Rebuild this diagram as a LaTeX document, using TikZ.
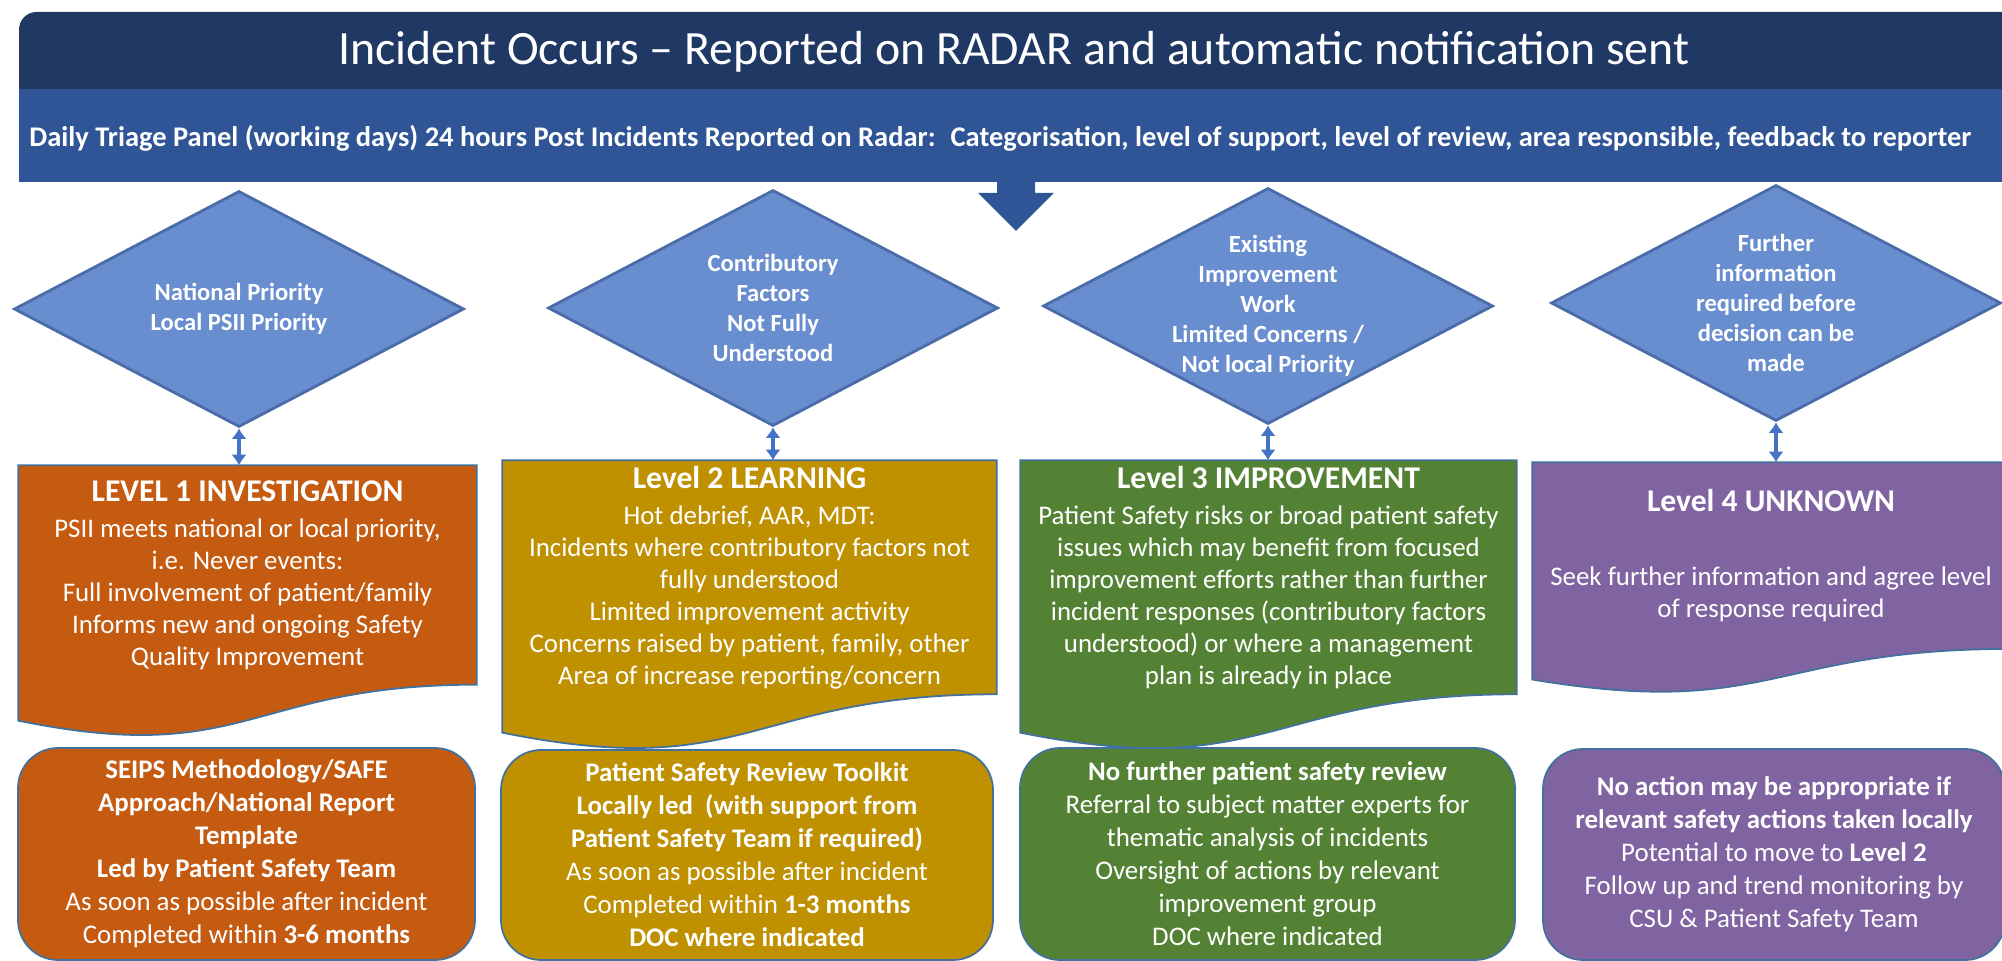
\documentclass[tikz,border=0pt]{standalone}
\usepackage{fontspec}
\setmainfont{Carlito}
\usetikzlibrary{calc, positioning, shapes.geometric, arrows.meta, backgrounds}

\definecolor{navy}{HTML}{203864}
\definecolor{bandblue}{HTML}{2F5597}
\definecolor{diafill}{HTML}{698ED0}
\definecolor{diaedge}{HTML}{4A6CA8}
\definecolor{arrowblue}{HTML}{4472C4}
\definecolor{edgeblue}{HTML}{41719C}
\definecolor{lvlorange}{HTML}{C55A11}
\definecolor{lvlgold}{HTML}{BF9000}
\definecolor{lvlgreen}{HTML}{548235}
\definecolor{lvlpurple}{HTML}{8064A2}

% document shape with wavy bottom, under the text node #1
\newcommand\docwave[3]{%
  \filldraw[fill=#2, draw=edgeblue, line width=0.5pt]
    (#1.north west) -- (#1.north east) -- (#1.south east)
    .. controls (#1.south) and ([yshift=-#3*0.38cm]#1.south) ..
    ([yshift=-#3*0.165cm]#1.south west) -- cycle;}

\begin{document}
\begin{tikzpicture}[>={Latex[length=3pt,width=4.4pt]},
  dia/.style={diamond, aspect=1.9, fill=diafill, draw=diaedge, line width=0.8pt,
    minimum width=4.5cm, minimum height=2.36cm, inner sep=0pt},
  dtext/.style={text=white, align=center, font=\fontsize{7}{8.5}\selectfont\bfseries},
  docbox/.style={text=white, align=center, inner sep=0pt, font=\fontsize{7.65}{9.1}\selectfont},
  rbox/.style={rounded corners=0.4cm, draw=edgeblue, line width=0.5pt, text=white,
    align=center, inner sep=0pt, font=\fontsize{7.65}{9.4}\selectfont},
  updown/.style={<->, draw=arrowblue, line width=1.3pt}]
  \useasboundingbox (0,0) rectangle (20.02,9.61);
  \clip (0,0) rectangle (20.02,9.61);

  % header bars
  \fill[navy] (0.19,8.72) [rounded corners=5pt] -- (0.19,9.49) [sharp corners] -- (20.3,9.49) -- (20.3,8.72) -- cycle;
  \node[text=white, font=\fontsize{13.6}{16}\selectfont] (title) at (10.14,9.095)
    {Incident Occurs -- Reported on RADAR and automatic notification sent};
  \fill[bandblue] (0.19,8.72) rectangle (20.3,7.79);
  \node[text=white, anchor=west, font=\fontsize{8.1}{9}\selectfont\bfseries] (band) at (0.17,8.23)
    {Daily Triage Panel (working days) 24 hours Post Incidents Reported on Radar: \ Categorisation, level of support, level of review, area responsible, feedback to reporter};
  \fill[bandblue] (9.97,7.81) -- (9.97,7.68) -- (9.78,7.68) -- (10.16,7.30)
    -- (10.54,7.68) -- (10.35,7.68) -- (10.35,7.81) -- cycle;

  % decisions
  \node[dia] (d1) at (2.39,6.52) {};
  \node[dtext] (t1) at (d1) {National Priority\\Local PSII Priority};
  \node[dia] (d2) at (7.73,6.53) {};
  \node[dtext] (t2) at (d2) {Contributory\\Factors\\Not Fully\\Understood};
  \node[dia] (d3) at (12.68,6.55) {};
  \node[dtext] (t3) at (d3) {Existing\\Improvement\\Work\\Limited Concerns /\\Not local Priority};
  \node[dia] (d4) at (17.76,6.58) {};
  \node[dtext] (t4) at (d4) {Further\\information\\required before\\decision can be\\made};

  % levels
  \node[docbox, minimum width=4.57cm, minimum height=2.18cm] (l1) at (2.475,3.86)
    {\textbf{\fontsize{9}{9.1}\selectfont LEVEL 1 INVESTIGATION}\\[1.2pt]
     PSII meets national or local priority,\\ i.e. Never events:\\
     Full involvement of patient/family\\ Informs new and ongoing Safety\\ Quality Improvement};
  \node[docbox, minimum width=4.93cm, minimum height=2.326cm] (l2) at (7.495,3.837)
    {\textbf{\fontsize{9}{9.1}\selectfont Level 2 LEARNING}\\[1.2pt]
     Hot debrief, AAR, MDT:\\ Incidents where contributory factors not\\ fully understood\\
     Limited improvement activity\\ Concerns raised by patient, family, other\\
     Area of increase reporting/concern};
  \node[docbox, minimum width=4.95cm, minimum height=2.326cm] (l3) at (12.685,3.837)
    {\textbf{\fontsize{9}{9.1}\selectfont Level 3 IMPROVEMENT}\\[1.2pt]
     Patient Safety risks or broad patient safety\\ issues which may benefit from focused\\
     improvement efforts rather than further\\ incident responses (contributory factors\\
     understood) or where a management\\ plan is already in place};
  \node[docbox, minimum width=4.76cm, minimum height=1.853cm] (l4) at (17.71,4.054)
    {\textbf{\fontsize{9}{9.1}\selectfont Level 4 UNKNOWN}\\[12pt]
     Seek further information and agree level\\ of response required};
  \begin{scope}[on background layer]
    \docwave{l1}{lvlorange}{2.18}
    \docwave{l2}{lvlgold}{2.326}
    \docwave{l3}{lvlgreen}{2.326}
    \docwave{l4}{lvlpurple}{1.853}
  \end{scope}

  \draw[updown] (d1.south) -- (d1.south |- l1.north);
  \draw[updown] (d2.south) -- (d2.south |- l2.north);
  \draw[updown] (d3.south) -- (d3.south |- l3.north);
  \draw[updown] (d4.south) -- (d4.south |- l4.north);

  % reviews
  \node[rbox, fill=lvlorange, minimum width=4.57cm, minimum height=2.12cm] (r1) at (2.465,1.07)
    {\textbf{SEIPS Methodology/SAFE}\\ \textbf{Approach/National Report}\\ \textbf{Template}\\
     \textbf{Led by Patient Safety Team}\\ As soon as possible after incident\\
     Completed within \textbf{3-6 months}};
  \node[rbox, fill=lvlgold, minimum width=4.92cm, minimum height=2.10cm] (r2) at (7.47,1.06)
    {\textbf{Patient Safety Review Toolkit}\\ \textbf{Locally led \ (with support from}\\
     \textbf{Patient Safety Team if required)}\\ As soon as possible after incident\\
     Completed within \textbf{1-3 months}\\ \textbf{DOC where indicated}};
  \node[rbox, fill=lvlgreen, minimum width=4.95cm, minimum height=2.12cm] (r3) at (12.675,1.07)
    {\textbf{No further patient safety review}\\ Referral to subject matter experts for\\
     thematic analysis of incidents\\ Oversight of actions by relevant\\
     improvement group\\ DOC where indicated};
  \node[rbox, fill=lvlpurple, minimum width=4.62cm, minimum height=2.11cm] (r4) at (17.74,1.065)
    {\textbf{No action may be appropriate if}\\ \textbf{relevant safety actions taken locally}\\
     Potential to move to \textbf{Level 2}\\ Follow up and trend monitoring by\\
     CSU \& Patient Safety Team};
\end{tikzpicture}
\end{document}
